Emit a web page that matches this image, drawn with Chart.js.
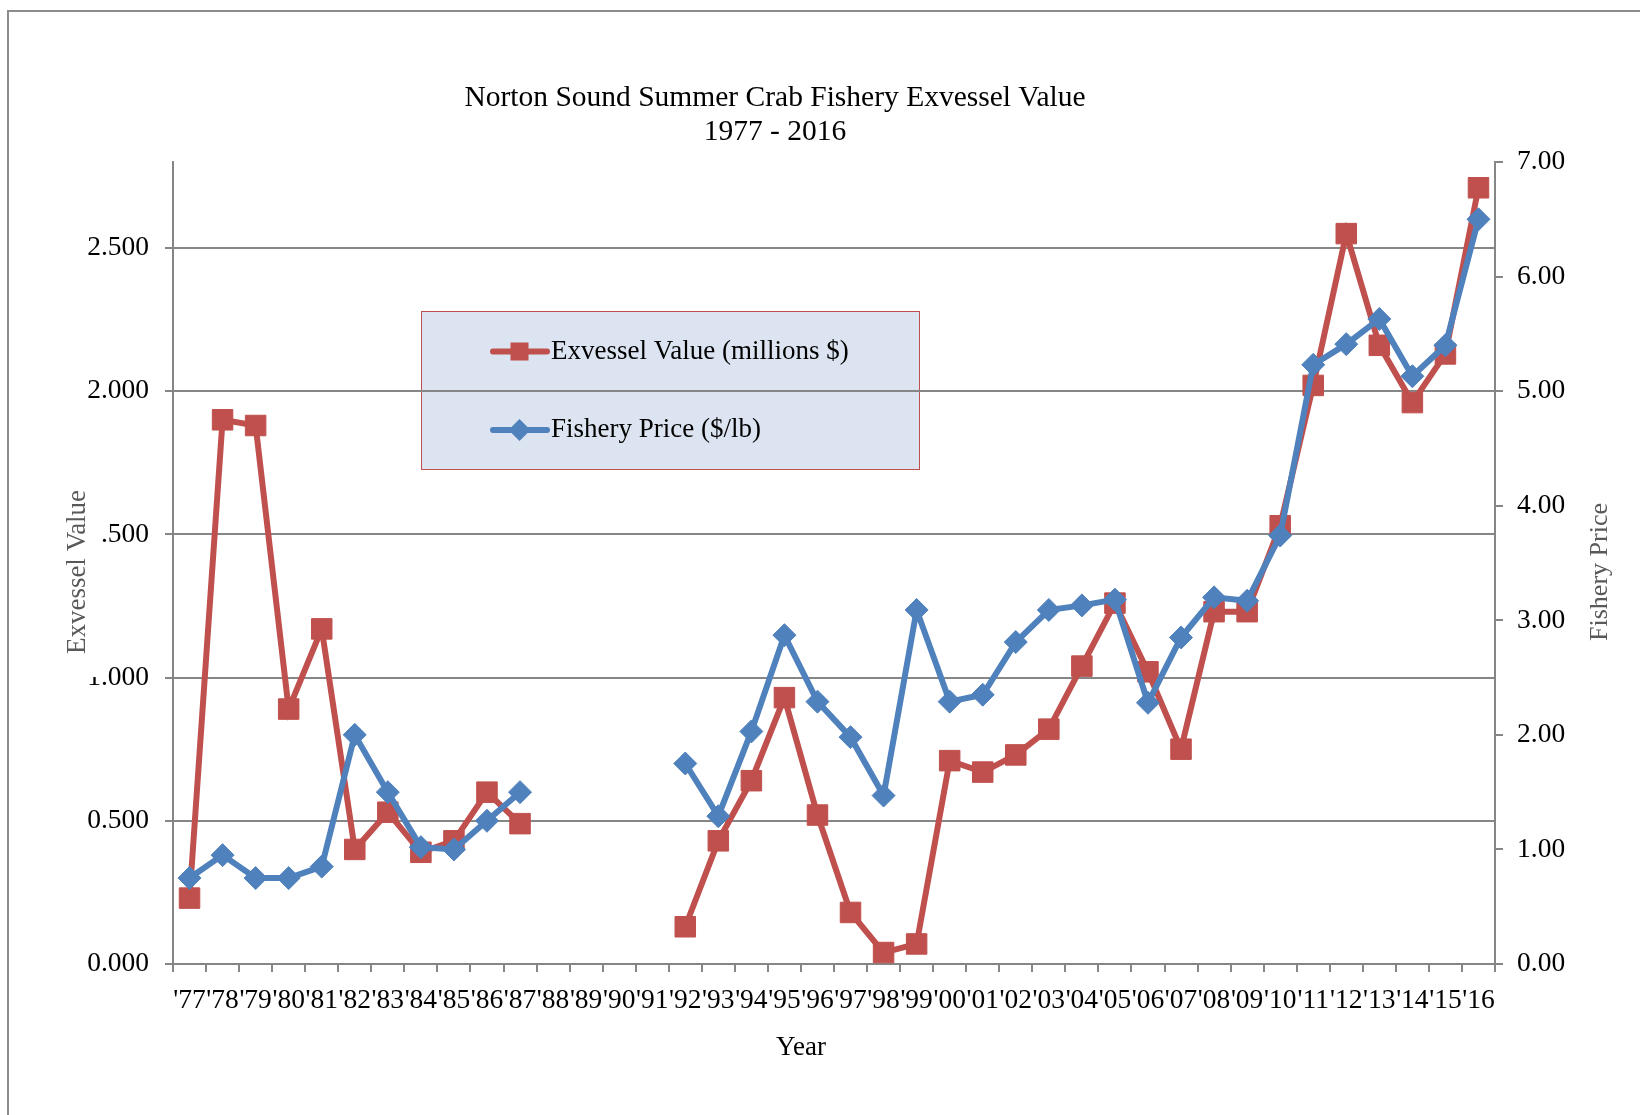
<!DOCTYPE html>
<html>
<head>
<meta charset="utf-8">
<script src="https://cdn.jsdelivr.net/npm/chart.js@4.4.1/dist/chart.umd.min.js"></script>
<style>
    body { margin: 0; background: #fff; }
    #wrap { position: relative; width: 1640px; height: 1115px; overflow: hidden; }
    #frame {
        position: absolute; left: 7px; top: 10px; width: 1700px; height: 1200px;
        border-left: 2px solid #8c8c8c; border-top: 2px solid #8c8c8c;
    }
    #chart { position: absolute; left: 0; top: 0; }
</style>
</head>
<body>
<div id="wrap">
    <div id="frame"></div>
    <canvas id="chart" width="1640" height="1115"></canvas>
</div>
<script>
// years on the category axis
const years = ["'77", "'78", "'79", "'80", "'81", "'82", "'83", "'84", "'85", "'86",
    "'87", "'88", "'89", "'90", "'91", "'92", "'93", "'94", "'95", "'96",
    "'97", "'98", "'99", "'00", "'01", "'02", "'03", "'04", "'05", "'06",
    "'07", "'08", "'09", "'10", "'11", "'12", "'13", "'14", "'15", "'16"];

// exvessel value, millions $ (left axis); no fishery '88-'91
const exvesselValue = [0.23, 1.90, 1.88, 0.89, 1.17, 0.40, 0.53, 0.39, 0.43, 0.60,
    0.49, null, null, null, null, 0.13, 0.43, 0.64, 0.93, 0.52,
    0.18, 0.04, 0.07, 0.71, 0.67, 0.73, 0.82, 1.04, 1.26, 1.02,
    0.75, 1.23, 1.23, 1.53, 2.02, 2.55, 2.16, 1.96, 2.13, 2.71];

// fishery price, $/lb (right axis)
const fisheryPrice = [0.75, 0.95, 0.75, 0.75, 0.85, 2.00, 1.50, 1.02, 1.00, 1.25,
    1.50, null, null, null, null, 1.75, 1.29, 2.03, 2.87, 2.29,
    1.98, 1.47, 3.09, 2.29, 2.35, 2.81, 3.09, 3.13, 3.18, 2.28,
    2.85, 3.20, 3.17, 3.74, 5.23, 5.41, 5.63, 5.13, 5.40, 6.50];

const titleLines = ['Norton Sound Summer Crab Fishery Exvessel Value', '1977 - 2016'];
const legendLabels = ['Exvessel Value (millions $)', 'Fishery Price ($/lb)'];

const RED = '#C0504D';
const BLUE = '#4F81BD';
const GRID = '#868686';
const SERIF = "'Liberation Serif', 'Times New Roman', serif";

Chart.defaults.font.family = SERIF;
Chart.defaults.color = '#000';

// legend box under the grid lines, like the original
const legendBox = {
    id: 'legendBox',
    beforeDraw(chart) {
        const ctx = chart.ctx;
        ctx.save();
        ctx.fillStyle = '#DBE4F0';
        ctx.fillRect(421.5, 311.5, 498, 158);
        ctx.strokeStyle = RED;
        ctx.lineWidth = 1;
        ctx.strokeRect(421.5, 311.5, 498, 158);

        const rows = [351.5, 430];
        const cols = [RED, BLUE];
        rows.forEach((y, i) => {
            ctx.strokeStyle = cols[i];
            ctx.fillStyle = cols[i];
            ctx.lineWidth = 6;
            ctx.lineCap = 'round';
            ctx.beginPath();
            ctx.moveTo(493, y);
            ctx.lineTo(547, y);
            ctx.stroke();
            ctx.beginPath();
            if (i === 0) {
                ctx.rect(510.5, y - 9, 18, 18);
            } else {
                ctx.moveTo(508.5, y);
                ctx.lineTo(519.5, y - 11);
                ctx.lineTo(530.5, y);
                ctx.lineTo(519.5, y + 11);
                ctx.closePath();
            }
            ctx.fill();

            ctx.fillStyle = '#000';
            ctx.font = '27px ' + SERIF;
            ctx.textAlign = 'left';
            ctx.textBaseline = 'middle';
            ctx.fillText(legendLabels[i], 551, y);
        });
        ctx.restore();
    }
};

// chart title, axis titles
const textLayer = {
    id: 'textLayer',
    afterDraw(chart) {
        const ctx = chart.ctx;
        ctx.save();
        ctx.textAlign = 'center';
        ctx.textBaseline = 'middle';

        ctx.fillStyle = '#000';
        ctx.font = '29.5px ' + SERIF;
        ctx.fillText(titleLines[0], 775, 98);
        ctx.fillText(titleLines[1], 775, 132);

        ctx.font = '27px ' + SERIF;
        ctx.fillText('Year', 801, 1048);

        // the left axis title sits on a white box that hides part of the ticks
        ctx.fillStyle = '#fff';
        ctx.fillRect(50, 460, 52, 217);

        ctx.fillStyle = '#595959';
        ctx.translate(78, 572);
        ctx.rotate(-Math.PI / 2);
        ctx.fillText('Exvessel Value', 0, 0);
        ctx.setTransform(1, 0, 0, 1, 0, 0);
        ctx.scale(chart.currentDevicePixelRatio, chart.currentDevicePixelRatio);

        ctx.font = '26px ' + SERIF;
        ctx.translate(1600, 572);
        ctx.rotate(-Math.PI / 2);
        ctx.fillText('Fishery Price', 0, 0);
        ctx.restore();
    }
};

new Chart(document.getElementById('chart'), {
    type: 'line',
    data: {
        labels: years,
        datasets: [{
            label: legendLabels[0],
            data: exvesselValue,
            yAxisID: 'y',
            order: 1,
            borderColor: RED,
            backgroundColor: RED,
            borderWidth: 6,
            pointStyle: 'rect',
            pointRadius: 14.5,
            pointBorderWidth: 1,
            pointBackgroundColor: RED,
            pointBorderColor: RED,
            tension: 0,
            spanGaps: false
        }, {
            label: legendLabels[1],
            data: fisheryPrice,
            yAxisID: 'y1',
            order: 0,
            borderColor: BLUE,
            backgroundColor: BLUE,
            borderWidth: 6,
            pointStyle: 'rectRot',
            pointRadius: 11.5,
            pointBorderWidth: 1,
            pointBackgroundColor: BLUE,
            pointBorderColor: BLUE,
            tension: 0,
            spanGaps: false
        }]
    },
    options: {
        responsive: false,
        animation: false,
        layout: { padding: { top: 162, left: 0, right: 0, bottom: 0 } },
        plugins: {
            legend: { display: false },
            title: { display: false },
            tooltip: { enabled: false }
        },
        scales: {
            x: {
                type: 'category',
                offset: true,
                grid: {
                    offset: true,
                    drawOnChartArea: false,
                    drawTicks: true,
                    tickLength: 8,
                    color: GRID,
                    lineWidth: 2
                },
                border: { color: GRID, width: 2 },
                ticks: {
                    autoSkip: false,
                    maxRotation: 0,
                    minRotation: 0,
                    padding: 12,
                    font: { size: 27.5 }
                },
                afterFit(scale) { scale.height = 151; }
            },
            y: {
                position: 'left',
                min: 0,
                max: 2.8,
                grid: { color: GRID, lineWidth: 2, tickLength: 8 },
                border: { color: GRID, width: 2 },
                ticks: {
                    stepSize: 0.5,
                    includeBounds: false,
                    padding: 16,
                    font: { size: 27.5 },
                    callback: v => v.toFixed(3)
                },
                afterFit(scale) { scale.width = 173; }
            },
            y1: {
                position: 'right',
                min: 0,
                max: 7,
                grid: { drawOnChartArea: false, color: GRID, lineWidth: 2, tickLength: 8 },
                border: { color: GRID, width: 2 },
                ticks: {
                    stepSize: 1,
                    padding: 14,
                    font: { size: 27.5 },
                    callback: v => v.toFixed(2)
                },
                afterFit(scale) { scale.width = 145; }
            }
        }
    },
    plugins: [legendBox, textLayer]
});
</script>
</body>
</html>
